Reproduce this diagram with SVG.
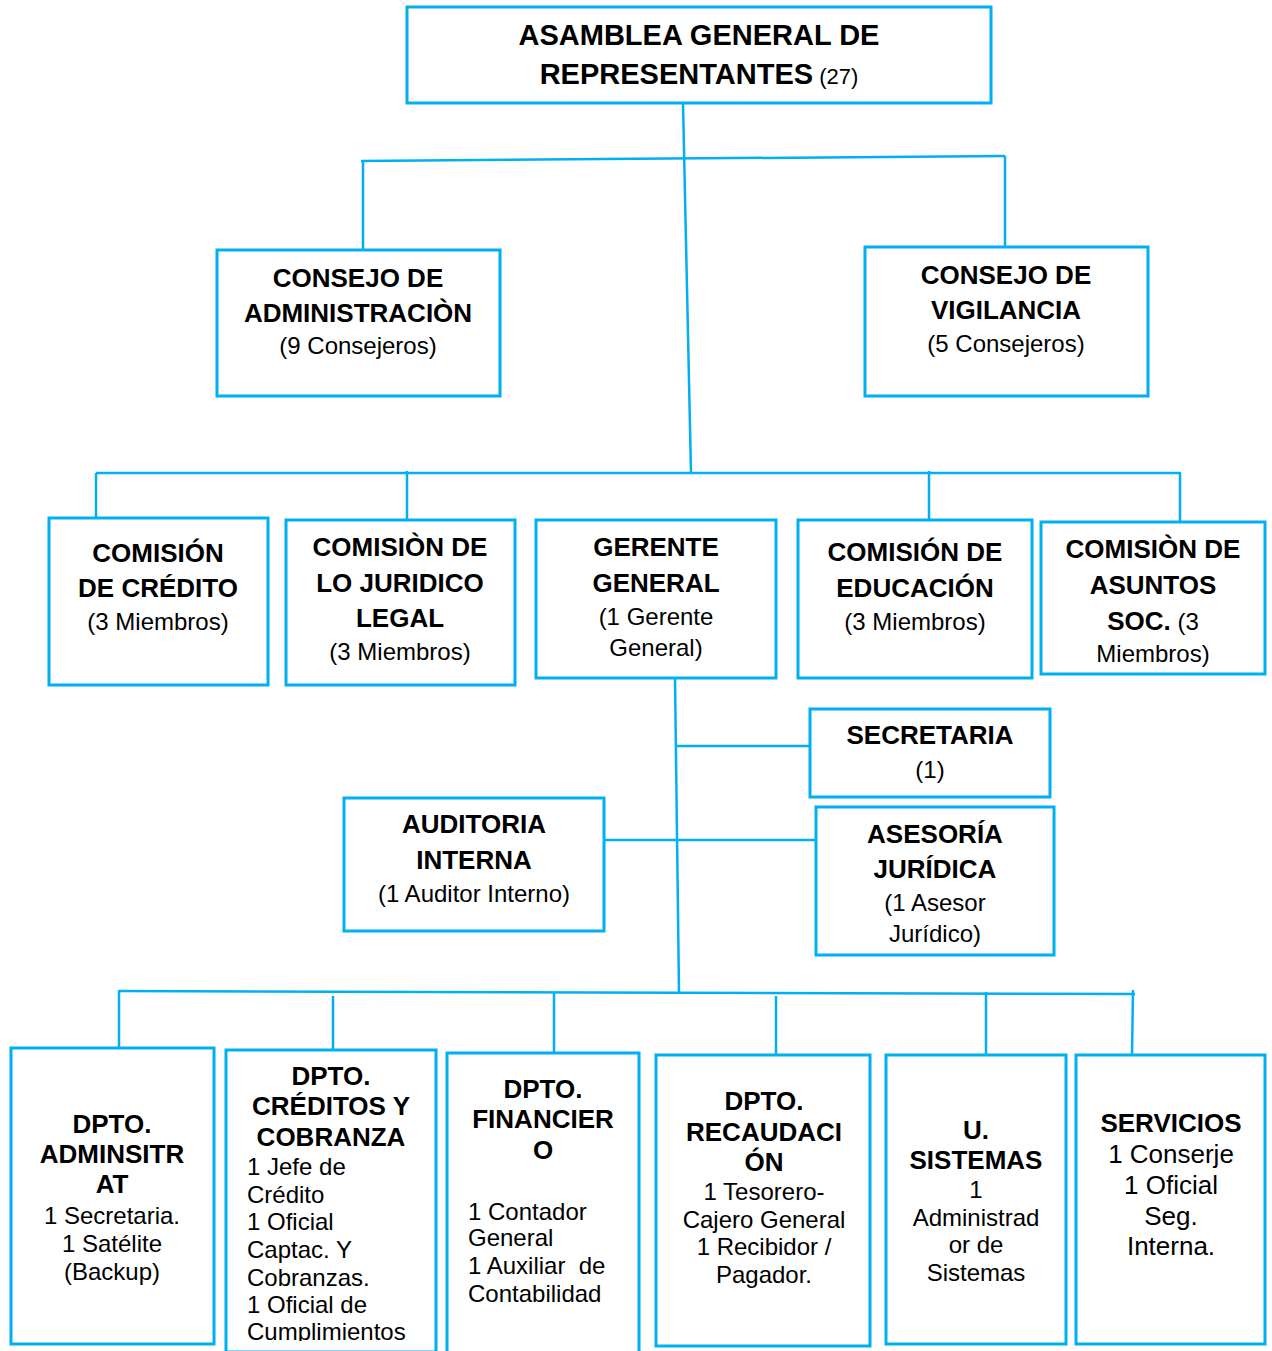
<svg xmlns="http://www.w3.org/2000/svg" width="1272" height="1351" viewBox="0 0 1272 1351">
<style>
.box{fill:#fff;stroke:#00b0f0;stroke-width:3}
.ln{stroke:#00b0f0;stroke-width:2.5;fill:none}
text{font-family:"Liberation Sans",Arial,sans-serif;fill:#000;text-anchor:middle}
.b{font-weight:bold;font-size:26px}
.r{font-size:24px}
.l{text-anchor:start}
</style>
<defs>
<clipPath id="clipCred"><rect x="226" y="1050" width="210" height="291"/></clipPath>
</defs>
<rect width="1272" height="1351" fill="#fff"/>
<g id="connectors">
<line class="ln" x1="683" y1="103" x2="691" y2="473"/>
<line class="ln" x1="361" y1="161" x2="1005" y2="156"/>
<line class="ln" x1="363" y1="161" x2="363" y2="250"/>
<line class="ln" x1="1005" y1="156" x2="1005" y2="247"/>
<line class="ln" x1="96" y1="473" x2="1181" y2="473"/>
<line class="ln" x1="96" y1="473" x2="96" y2="526"/>
<line class="ln" x1="407" y1="471" x2="407" y2="522"/>
<line class="ln" x1="929" y1="471" x2="929" y2="519"/>
<line class="ln" x1="1180" y1="473" x2="1180" y2="522"/>
<line class="ln" x1="675" y1="678" x2="679" y2="992"/>
<line class="ln" x1="677" y1="746" x2="810" y2="746"/>
<line class="ln" x1="605" y1="840" x2="816" y2="840"/>
<line class="ln" x1="119" y1="991" x2="1135" y2="994"/>
<line class="ln" x1="119" y1="990" x2="119" y2="1048"/>
<line class="ln" x1="333" y1="996" x2="333" y2="1050"/>
<line class="ln" x1="554" y1="993" x2="554" y2="1053"/>
<line class="ln" x1="776" y1="996" x2="776" y2="1055"/>
<line class="ln" x1="986" y1="992" x2="986" y2="1057"/>
<line class="ln" x1="1133" y1="990" x2="1132" y2="1055"/>
</g>
<g id="asamblea">
<rect class="box" x="407" y="7" width="584" height="96"/>
<text x="699" y="45" class="b" style="font-size:29px">ASAMBLEA GENERAL DE</text>
<text x="699" y="84"><tspan class="b" style="font-size:29px">REPRESENTANTES</tspan><tspan style="font-size:22px"> (27)</tspan></text>
</g>
<g id="consejo-admin">
<rect class="box" x="217" y="250" width="283" height="146"/>
<text x="358" y="287" class="b">CONSEJO DE</text>
<text x="358" y="322" class="b">ADMINISTRACIÒN</text>
<text x="358" y="354" class="r">(9 Consejeros)</text>
</g>
<g id="consejo-vigilancia">
<rect class="box" x="865" y="247" width="283" height="149"/>
<text x="1006" y="284" class="b">CONSEJO DE</text>
<text x="1006" y="319" class="b">VIGILANCIA</text>
<text x="1006" y="352" class="r">(5 Consejeros)</text>
</g>
<g id="comision-credito">
<rect class="box" x="49" y="518" width="219" height="167"/>
<text x="158" y="562" class="b">COMISIÓN</text>
<text x="158" y="597" class="b">DE CRÉDITO</text>
<text x="158" y="630" class="r">(3 Miembros)</text>
</g>
<g id="comision-juridico">
<rect class="box" x="286" y="520" width="229" height="165"/>
<text x="400" y="556" class="b">COMISIÒN DE</text>
<text x="400" y="592" class="b">LO JURIDICO</text>
<text x="400" y="627" class="b">LEGAL</text>
<text x="400" y="660" class="r">(3 Miembros)</text>
</g>
<g id="gerente">
<rect class="box" x="536" y="520" width="240" height="158"/>
<text x="656" y="556" class="b">GERENTE</text>
<text x="656" y="592" class="b">GENERAL</text>
<text x="656" y="625" class="r">(1 Gerente</text>
<text x="656" y="656" class="r">General)</text>
</g>
<g id="comision-educacion">
<rect class="box" x="798" y="520" width="234" height="158"/>
<text x="915" y="561" class="b">COMISIÓN DE</text>
<text x="915" y="597" class="b">EDUCACIÓN</text>
<text x="915" y="630" class="r">(3 Miembros)</text>
</g>
<g id="comision-asuntos">
<rect class="box" x="1041" y="522" width="224" height="152"/>
<text x="1153" y="558" class="b">COMISIÒN DE</text>
<text x="1153" y="594" class="b">ASUNTOS</text>
<text x="1153" y="630"><tspan class="b">SOC.</tspan><tspan class="r"> (3</tspan></text>
<text x="1153" y="662" class="r">Miembros)</text>
</g>
<g id="secretaria">
<rect class="box" x="810" y="709" width="240" height="88"/>
<text x="930" y="744" class="b">SECRETARIA</text>
<text x="930" y="778" class="r">(1)</text>
</g>
<g id="auditoria">
<rect class="box" x="344" y="798" width="260" height="133"/>
<text x="474" y="833" class="b">AUDITORIA</text>
<text x="474" y="869" class="b">INTERNA</text>
<text x="474" y="902" class="r">(1 Auditor Interno)</text>
</g>
<g id="asesoria">
<rect class="box" x="816" y="807" width="238" height="148"/>
<text x="935" y="843" class="b">ASESORÍA</text>
<text x="935" y="878" class="b">JURÍDICA</text>
<text x="935" y="911" class="r">(1 Asesor</text>
<text x="935" y="942" class="r">Jurídico)</text>
</g>
<g id="dpto-administrativo">
<rect class="box" x="11" y="1048" width="203" height="296"/>
<text x="112" y="1133" class="b">DPTO.</text>
<text x="112" y="1163" class="b">ADMINSITR</text>
<text x="112" y="1193" class="b">AT</text>
<text x="112" y="1224" class="r">1 Secretaria.</text>
<text x="112" y="1252" class="r">1 Satélite</text>
<text x="112" y="1280" class="r">(Backup)</text>
</g>
<g id="dpto-creditos">
<rect class="box" x="226" y="1050" width="210" height="302"/>
<text x="331" y="1085" class="b">DPTO.</text>
<text x="331" y="1115" class="b">CRÉDITOS Y</text>
<text x="331" y="1146" class="b">COBRANZA</text>
<g clip-path="url(#clipCred)">
<text x="247" y="1175" class="r l">1 Jefe de</text>
<text x="247" y="1203" class="r l">Crédito</text>
<text x="247" y="1230" class="r l">1 Oficial</text>
<text x="247" y="1258" class="r l">Captac. Y</text>
<text x="247" y="1286" class="r l">Cobranzas.</text>
<text x="247" y="1313" class="r l">1 Oficial de</text>
<text x="247" y="1340" class="r l">Cumplimientos</text>
</g>
</g>
<g id="dpto-financiero">
<rect class="box" x="447" y="1053" width="192" height="310"/>
<text x="543" y="1098" class="b">DPTO.</text>
<text x="543" y="1128" class="b">FINANCIER</text>
<text x="543" y="1159" class="b">O</text>
<text x="468" y="1220" class="r l">1 Contador</text>
<text x="468" y="1246" class="r l">General</text>
<text x="468" y="1274" class="r l" xml:space="preserve">1 Auxiliar  de</text>
<text x="468" y="1302" class="r l">Contabilidad</text>
</g>
<g id="dpto-recaudacion">
<rect class="box" x="656" y="1055" width="214" height="291"/>
<text x="764" y="1110" class="b">DPTO.</text>
<text x="764" y="1141" class="b">RECAUDACI</text>
<text x="764" y="1171" class="b">ÓN</text>
<text x="764" y="1200" class="r">1 Tesorero-</text>
<text x="764" y="1228" class="r">Cajero General</text>
<text x="764" y="1255" class="r">1 Recibidor /</text>
<text x="764" y="1283" class="r">Pagador.</text>
</g>
<g id="u-sistemas">
<rect class="box" x="886" y="1055" width="180" height="289"/>
<text x="976" y="1139" class="b">U.</text>
<text x="976" y="1169" class="b">SISTEMAS</text>
<text x="976" y="1198" class="r">1</text>
<text x="976" y="1226" class="r">Administrad</text>
<text x="976" y="1253" class="r">or de</text>
<text x="976" y="1281" class="r">Sistemas</text>
</g>
<g id="servicios">
<rect class="box" x="1076" y="1055" width="189" height="289"/>
<text x="1171" y="1132" class="b">SERVICIOS</text>
<text x="1171" y="1163" class="r" style="font-size:26px">1 Conserje</text>
<text x="1171" y="1194" class="r" style="font-size:26px">1 Oficial</text>
<text x="1171" y="1225" class="r" style="font-size:26px">Seg.</text>
<text x="1171" y="1255" class="r" style="font-size:26px">Interna.</text>
</g>
</svg>
